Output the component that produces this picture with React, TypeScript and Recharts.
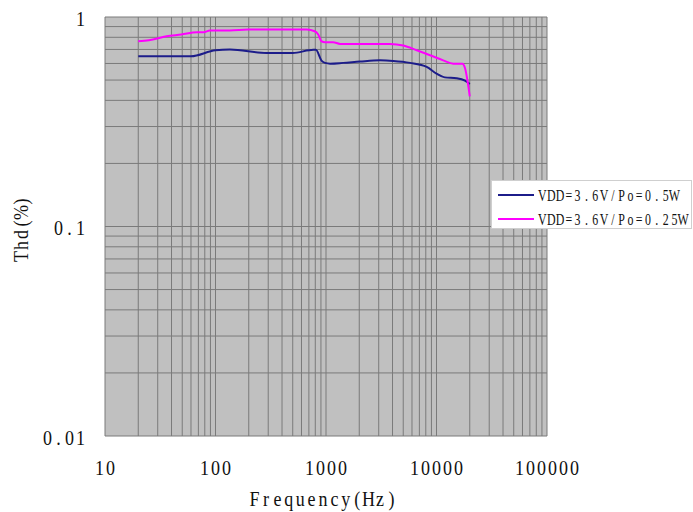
import React from 'react';
import { LineChart, Line, XAxis, YAxis, CartesianGrid, Legend } from 'recharts';

// ---- data ----
const seriesNames = ['VDD=3.6V/Po=0.5W', 'VDD=3.6V/Po=0.25W'];
const seriesColors = ['#1c1c8a', '#ff00ff'];

const blueFreq = [20, 60, 100, 135, 290, 500, 770, 810, 910, 980, 1090, 1430, 2030, 3080, 4070, 5760, 8150, 10000, 11900, 15200, 18100, 20000];
const blueThd = [0.649, 0.649, 0.694, 0.699, 0.674, 0.674, 0.697, 0.697, 0.619, 0.604, 0.599, 0.604, 0.613, 0.621, 0.617, 0.604, 0.578, 0.537, 0.515, 0.51, 0.497, 0.479];

const pinkFreq = [20, 25, 36, 49, 68, 78, 89, 135, 198, 670, 790, 850, 910, 980, 1160, 1340, 3790, 5010, 6620, 8740, 11500, 14200, 17200, 18100, 20000];
const pinkThd = [0.766, 0.774, 0.809, 0.825, 0.846, 0.846, 0.862, 0.862, 0.871, 0.871, 0.855, 0.825, 0.766, 0.758, 0.758, 0.744, 0.744, 0.731, 0.694, 0.657, 0.621, 0.599, 0.599, 0.571, 0.418];

const xTicks = [10, 20, 30, 40, 50, 60, 70, 80, 90, 100, 200, 300, 400, 500, 600, 700, 800, 900, 1000, 2000, 3000, 4000, 5000, 6000, 7000, 8000, 9000, 10000, 20000, 30000, 40000, 50000, 60000, 70000, 80000, 90000, 100000];
const xMajor = ['10', '100', '1000', '10000', '100000'];
const yTicks = [0.01, 0.02, 0.03, 0.04, 0.05, 0.06, 0.07, 0.08, 0.09, 0.1, 0.2, 0.3, 0.4, 0.5, 0.6, 0.7, 0.8, 0.9, 1];
const yMajor = ['0.01', '0.1', '1'];

const xTitle = 'Frequency(Hz)';
const yTitle = 'Thd(%)';

const blueData = blueFreq.map((f, i) => ({ f, v: blueThd[i] }));
const pinkData = pinkFreq.map((f, i) => ({ f, v: pinkThd[i] }));

const FONT = '"Liberation Serif", "DejaVu Serif", serif';

// monospaced-cell text (emulates the half-width CJK font of the original)
function MonoText({ x, y, text, cell, anchor, fontSize, sx = 1, fill = '#111' }: any) {
  const chars = String(text).split('');
  const total = chars.length * cell;
  const start = anchor === 'middle' ? x - total / 2 : anchor === 'end' ? x - total : x;
  return (
    <text
      y={y}
      fontSize={fontSize}
      fontFamily={FONT}
      fill={fill}
      textAnchor="middle"
      transform={`scale(${sx},1)`}
    >
      {chars.map((c, i) => (
        <tspan key={i} x={(start + cell * (i + 0.5)) / sx}>{c}</tspan>
      ))}
    </text>
  );
}

const XTick = (props: any) => {
  const { x, payload } = props;
  const label = String(payload.value);
  if (!xMajor.includes(label)) return <g />;
  return <MonoText x={x} y={475} text={label} cell={11} anchor="middle" fontSize={20} sx={0.9} />;
};

const YTick = (props: any) => {
  const { y, payload } = props;
  const label = String(payload.value);
  if (!yMajor.includes(label)) return <g />;
  return <MonoText x={86} y={y + 9} text={label} cell={11} anchor="end" fontSize={20} sx={0.9} />;
};

const LegendBox = () => (
  <div style={{ width: 201, height: 49, background: '#fff', border: '1px solid #cfcfcf', boxSizing: 'border-box' }}>
    <svg width={199} height={47} style={{ display: 'block' }}>
      {seriesNames.map((n, i) => (
        <g key={n}>
          <line x1={6} x2={42} y1={14 + i * 24} y2={14 + i * 24} stroke={seriesColors[i]} strokeWidth={2} />
          <MonoText x={46} y={20 + i * 24} text={n} cell={8.8} anchor="start" fontSize={17} sx={0.7} />
        </g>
      ))}
    </svg>
  </div>
);

export default function App() {
  return (
    <div style={{ position: 'absolute', left: 0, top: 0, width: 693, height: 512, background: '#fff' }}>
      <LineChart width={693} height={512} margin={{ top: 17, right: 146, bottom: 36, left: 45 }}>
        <CartesianGrid fill="#c0c0c0" fillOpacity={1} stroke="#7a7a7a" strokeWidth={1} />
        <XAxis
          dataKey="f"
          type="number"
          scale="log"
          domain={[10, 100000]}
          ticks={xTicks}
          interval={0}
          allowDataOverflow
          axisLine={false}
          tickLine={false}
          tick={<XTick />}
          height={40}
        />
        <YAxis
          type="number"
          scale="log"
          domain={[0.01, 1]}
          ticks={yTicks}
          interval={0}
          allowDataOverflow
          axisLine={false}
          tickLine={false}
          tick={<YTick />}
          width={60}
        />
        <Line data={blueData} dataKey="v" name={seriesNames[0]} type="monotone" stroke={seriesColors[0]} strokeWidth={2} dot={false} isAnimationActive={false} />
        <Line data={pinkData} dataKey="v" name={seriesNames[1]} type="monotone" stroke={seriesColors[1]} strokeWidth={2} dot={false} isAnimationActive={false} />
        <Legend
          layout="horizontal"
          verticalAlign="middle"
          align="center"
          content={() => <LegendBox />}
          wrapperStyle={{ left: 491, top: 180, width: 201, height: 49 }}
        />
      </LineChart>
      <svg width={693} height={512} style={{ position: 'absolute', left: 0, top: 0, pointerEvents: 'none' }}>
        <MonoText x={323} y={506} text={xTitle} cell={11.4} anchor="middle" fontSize={20} sx={0.9} />
        <g transform="translate(20,229) rotate(-90)">
          <MonoText x={0} y={8} text={yTitle} cell={11} anchor="middle" fontSize={20} sx={0.9} />
        </g>
      </svg>
    </div>
  );
}
